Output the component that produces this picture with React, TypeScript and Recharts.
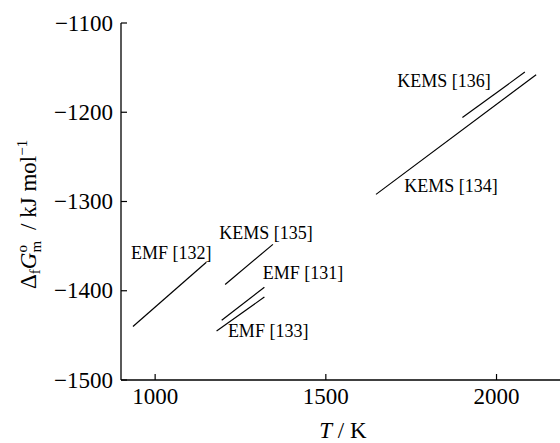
import { LineChart, Line, XAxis, YAxis, ReferenceDot } from "recharts";

const FONT = '"Liberation Serif", "Times New Roman", serif';

// temperature (K) / Gibbs energy (kJ/mol) end points
const emf132 = [{ T: 935, G: -1440 }, { T: 1150, G: -1368 }];
const kems135 = [{ T: 1205, G: -1393 }, { T: 1345, G: -1348 }];
const emf131 = [{ T: 1195, G: -1433 }, { T: 1320, G: -1396 }];
const emf133 = [{ T: 1180, G: -1445 }, { T: 1320, G: -1407 }];
const kems134 = [{ T: 1647, G: -1292 }, { T: 2116, G: -1158 }];
const kems136 = [{ T: 1900, G: -1206 }, { T: 2083, G: -1155 }];

const series = [emf132, kems135, emf131, emf133, kems134, kems136];

const labels = [
  { text: "EMF [132]", T: 1047, G: -1357 },
  { text: "KEMS [135]", T: 1325, G: -1335 },
  { text: "EMF [131]", T: 1433, G: -1380 },
  { text: "EMF [133]", T: 1331, G: -1445 },
  { text: "KEMS [136]", T: 1846, G: -1165 },
  { text: "KEMS [134]", T: 1867, G: -1282 },
];

const xTicks = [1000, 1500, 2000];
const yTicks = [-1500, -1400, -1300, -1200, -1100];

const fmt = (v: number) => (v < 0 ? "\u2212" + Math.abs(v) : String(v));

function LeftTick(props: any) {
  const { x, y, payload } = props;
  return (
    <g>
      <line x1={x} x2={x + 6} y1={y} y2={y} stroke="#000" strokeWidth={1.2} />
      <text x={x - 8} y={y} textAnchor="end" dominantBaseline="central" fontSize={23} fontFamily={FONT} fill="#000">
        {fmt(payload.value)}
      </text>
    </g>
  );
}

function RightTick(props: any) {
  const { x, y } = props;
  return <line x1={x} x2={x - 6} y1={y} y2={y} stroke="#000" strokeWidth={1.2} />;
}

function BottomTick(props: any) {
  const { x, y, payload } = props;
  return (
    <g>
      <line x1={x} x2={x} y1={y} y2={y - 6} stroke="#000" strokeWidth={1.2} />
      <text x={x} y={y + 24} textAnchor="middle" fontSize={23} fontFamily={FONT} fill="#000">
        {fmt(payload.value)}
      </text>
    </g>
  );
}

function TopTick(props: any) {
  const { x, y } = props;
  return <line x1={x} x2={x} y1={y} y2={y + 6} stroke="#000" strokeWidth={1.2} />;
}

function XTitle(props: any) {
  const vb = props.viewBox;
  return (
    <text x={vb.x + vb.width / 2} y={438} textAnchor="middle" fontSize={23} fontFamily={FONT} fill="#000">
      <tspan fontStyle="italic">T</tspan> / K
    </text>
  );
}

function YTitle() {
  const cx = 36;
  const cy = 289;
  return (
    <text
      x={cx}
      y={cy}
      transform={`rotate(-90 ${cx} ${cy})`}
      textAnchor="start"
      fontSize={23}
      fontFamily={FONT}
      fill="#000"
    >
      Δ
      <tspan fontSize={15} dy={4}>f</tspan>
      <tspan fontStyle="italic" dy={-4}>G</tspan>
      <tspan fontSize={15} dy={-9}>o</tspan>
      <tspan fontSize={15} dx={-7.5} dy={14}>m</tspan>
      <tspan dy={-5} dx={11}>/ kJ mol</tspan>
      <tspan fontSize={15} dy={-9}>{"\u22121"}</tspan>
    </text>
  );
}

export default function App() {
  return (
    <div style={{ position: "absolute", left: 0, top: 0, width: 560, height: 443, overflow: "hidden", background: "#fff" }}>
      <LineChart width={620} height={443} margin={{ top: 23, right: 55.2, bottom: 0, left: 0 }}>
        <XAxis
          xAxisId="b"
          dataKey="T"
          type="number"
          domain={[900, 2200]}
          ticks={xTicks}
          interval={0}
          allowDataOverflow
          height={63}
          tickSize={0}
          tickMargin={0}
          axisLine={{ stroke: "#000", strokeWidth: 1.3 }}
          tickLine={false}
          tick={<BottomTick />}
          label={<XTitle />}
        />
        <XAxis
          xAxisId="t"
          orientation="top"
          dataKey="T"
          type="number"
          domain={[900, 2200]}
          ticks={xTicks}
          interval={0}
          allowDataOverflow
          height={0}
          tickSize={0}
          tickMargin={0}
          axisLine={{ stroke: "#000", strokeWidth: 1.3 }}
          tickLine={false}
          tick={<TopTick />}
        />
        <YAxis
          yAxisId="l"
          type="number"
          domain={[-1500, -1100]}
          ticks={yTicks}
          interval={0}
          allowDataOverflow
          width={121}
          tickSize={0}
          tickMargin={0}
          axisLine={{ stroke: "#000", strokeWidth: 1.3 }}
          tickLine={false}
          tick={<LeftTick />}
          label={<YTitle />}
        />
        <YAxis
          yAxisId="r"
          orientation="right"
          type="number"
          domain={[-1500, -1100]}
          ticks={yTicks}
          interval={0}
          allowDataOverflow
          width={0}
          tickSize={0}
          tickMargin={0}
          axisLine={{ stroke: "#000", strokeWidth: 1.3 }}
          tickLine={false}
          tick={<RightTick />}
        />
        {series.map((d, i) => (
          <Line
            key={i}
            xAxisId="b"
            yAxisId="l"
            data={d}
            dataKey="G"
            type="linear"
            stroke="#000"
            strokeWidth={1.2}
            dot={false}
            activeDot={false}
            isAnimationActive={false}
          />
        ))}
        <Line xAxisId="t" yAxisId="r" data={emf132} dataKey="G" stroke="none" dot={false} activeDot={false} isAnimationActive={false} />
        {labels.map((l) => (
          <ReferenceDot
            key={l.text}
            xAxisId="b"
            yAxisId="l"
            x={l.T}
            y={l.G}
            r={0}
            fill="none"
            stroke="none"
            label={{ value: l.text, position: "center", fontSize: 18, fontFamily: FONT, fill: "#000" }}
          />
        ))}
      </LineChart>
    </div>
  );
}
